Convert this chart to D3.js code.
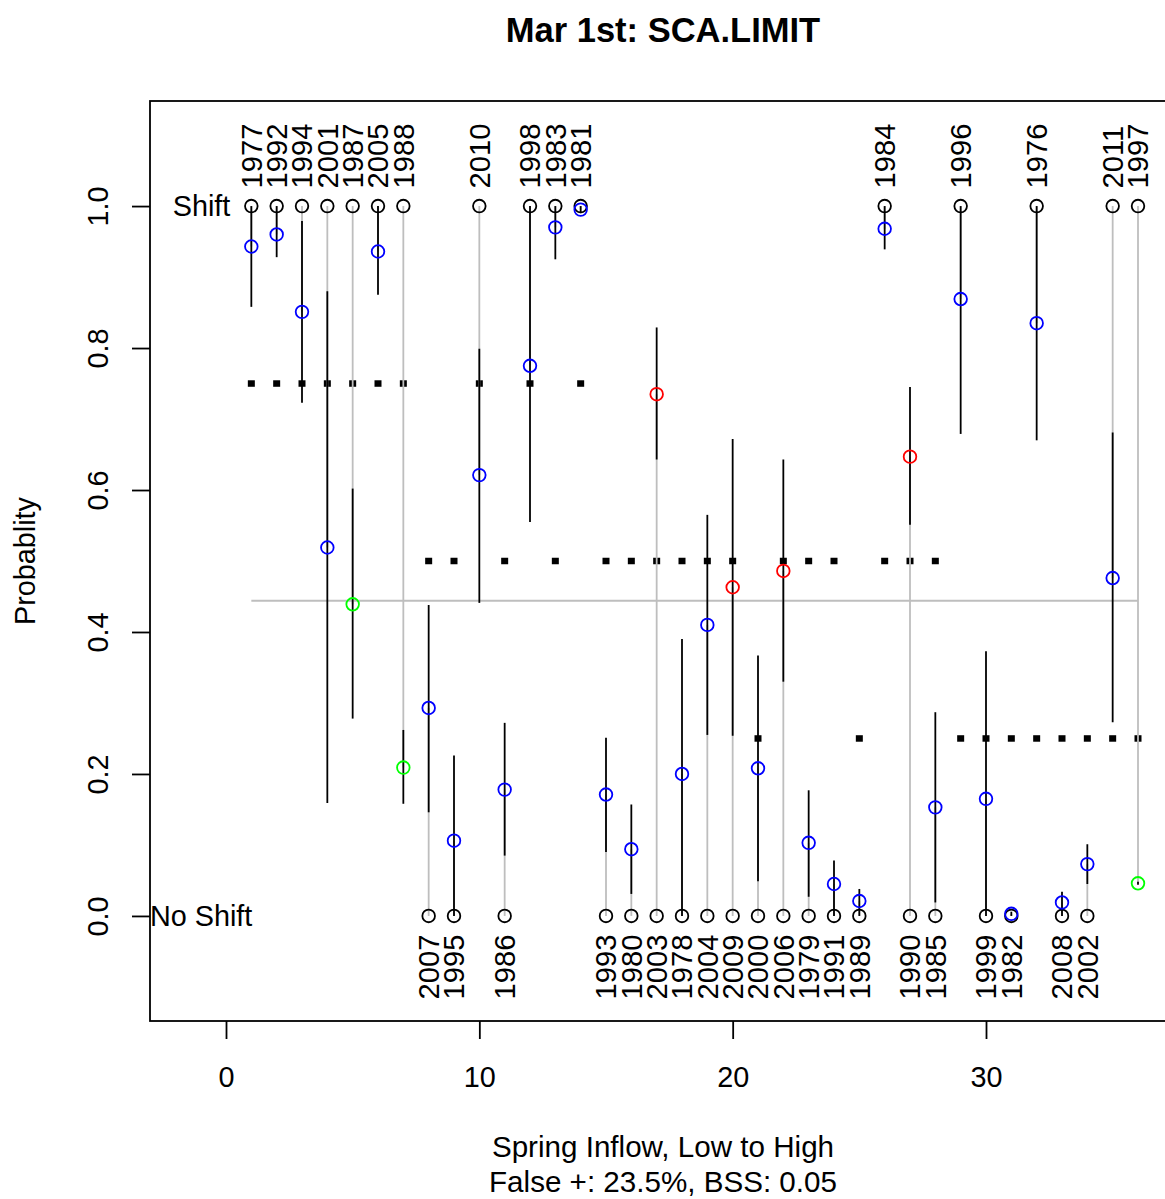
<!DOCTYPE html>
<html>
<head>
<meta charset="utf-8">
<script src="https://cdn.jsdelivr.net/npm/d3@7"></script>
<style>
  body { margin: 0; background: #fff; }
  svg { display: block; font-family: "Liberation Sans", Arial, sans-serif; }
</style>
</head>
<body>
<div id="chart"></div>
<script>
// years sorted by spring inflow, low to high
let years = [1977,1992,1994,2001,1987,2005,1988,2007,1995,2010,1986,1998,1983,1981,1993,1980,2003,1978,
             2004,2009,2000,2006,1979,1991,1989,1984,1990,1985,1996,1999,1982,1976,2008,2002,2011,1997];
let observed = [1,1,1,1,1,1,1,0,0,1,0,1,1,1,0,0,0,0,0,0,0,0,0,0,0,1,0,0,1,0,0,1,0,0,1,1];
let predicted = [0.943,0.960,0.851,0.519,0.439,0.936,0.209,0.293,0.106,0.621,0.178,0.775,0.970,0.995,
                 0.171,0.094,0.735,0.200,0.410,0.463,0.208,0.486,0.103,0.045,0.021,0.968,0.647,0.153,
                 0.869,0.165,0.003,0.835,0.019,0.073,0.476,0.046];
let lower = [0.858,0.928,0.723,0.159,0.278,0.875,0.158,0.146,0.0,0.441,0.085,0.555,0.925,0.990,
             0.090,0.031,0.643,0.0,0.255,0.254,0.049,0.330,0.027,0.0,0.0,0.939,0.551,0.019,
             0.679,0.0,0.0,0.670,0.0,0.045,0.273,0.044];
let upper = [1.0,1.0,0.979,0.880,0.602,1.0,0.262,0.438,0.226,0.799,0.272,1.0,1.0,1.0,
             0.251,0.157,0.829,0.390,0.565,0.672,0.367,0.643,0.177,0.078,0.038,1.0,0.745,0.287,
             1.0,0.373,0.006,1.0,0.034,0.101,0.681,0.048];
let category = [0.75,0.75,0.75,0.75,0.75,0.75,0.75,0.5,0.5,0.75,0.5,0.75,0.5,0.75,
                0.5,0.5,0.5,0.5,0.5,0.5,0.25,0.5,0.5,0.5,0.25,0.5,0.5,0.5,
                0.25,0.25,0.25,0.25,0.25,0.25,0.25,0.25];
let threshold = 0.444;
let xTicks = [0, 10, 20, 30];
let yTicks = [0, 0.2, 0.4, 0.6, 0.8, 1.0];

let data = years.map((y, i) => ({
    x: i + 1, year: y, obs: observed[i], pred: predicted[i],
    lo: lower[i], hi: upper[i], cat: category[i]
}));

let W = 1165, H = 1199;
let plot = {left: 150, right: 1176, top: 101, bottom: 1021};
let fs = 28.8;

let svg = d3.select("#chart").append("svg").attr("width", W).attr("height", H);
svg.append("rect").attr("width", W).attr("height", H).attr("fill", "#fff");

let x = d3.scaleLinear().domain([-3, 37.5]).range([plot.left, plot.right]);
let y = d3.scaleLinear().domain([-0.148, 1.148]).range([plot.bottom, plot.top]);

function ptColor(d) {
    if (d.obs == 0 && d.pred > threshold) return "#FF0000";
    if (d.obs == 1 && d.pred < threshold) return "#00FF00";
    return "#0000FF";
}

// category squares
svg.append("g").selectAll("rect").data(data).enter().append("rect")
    .attr("x", d => x(d.x) - 3.5).attr("y", d => y(d.cat) - 3.25)
    .attr("width", 7).attr("height", 6.5).attr("fill", "#000");

// threshold line
svg.append("line")
    .attr("x1", x(1)).attr("x2", x(data.length))
    .attr("y1", y(threshold)).attr("y2", y(threshold))
    .attr("stroke", "#BEBEBE").attr("stroke-width", 1.8);

// grey: observed -> predicted
svg.append("g").selectAll("line").data(data).enter().append("line")
    .attr("x1", d => x(d.x)).attr("x2", d => x(d.x))
    .attr("y1", d => y(d.obs)).attr("y2", d => y(d.pred))
    .attr("stroke", "#BEBEBE").attr("stroke-width", 1.8);

// black: interval
svg.append("g").selectAll("line").data(data).enter().append("line")
    .attr("x1", d => x(d.x)).attr("x2", d => x(d.x))
    .attr("y1", d => y(d.lo)).attr("y2", d => y(d.hi))
    .attr("stroke", "#000").attr("stroke-width", 1.8);

// observed circles
svg.append("g").selectAll("circle").data(data).enter().append("circle")
    .attr("cx", d => x(d.x)).attr("cy", d => y(d.obs)).attr("r", 6.3)
    .attr("fill", "none").attr("stroke", "#000").attr("stroke-width", 1.8);

// predicted circles
svg.append("g").selectAll("circle").data(data).enter().append("circle")
    .attr("cx", d => x(d.x)).attr("cy", d => y(d.pred)).attr("r", 6.3)
    .attr("fill", "none").attr("stroke", ptColor).attr("stroke-width", 1.8);

// year labels, above for shift years and below for the rest
svg.append("g").selectAll("text").data(data).enter().append("text")
    .attr("transform", d => "translate(" + x(d.x) + "," + (d.obs == 1 ? y(1) - 17.5 : y(0) + 18.5) + ") rotate(-90)")
    .attr("text-anchor", d => d.obs == 1 ? "start" : "end")
    .attr("dy", "0.35em")
    .attr("font-size", 29.2)
    .text(d => d.year);

svg.append("text").attr("x", x(1) - 21).attr("y", y(1)).attr("dy", "0.35em")
    .attr("text-anchor", "end").attr("font-size", fs).text("Shift");
svg.append("text").attr("x", x(1) + 1).attr("y", y(0)).attr("dy", "0.35em")
    .attr("text-anchor", "end").attr("font-size", fs).text("No Shift");

// axes
let xAxis = d3.axisBottom(x).tickValues(xTicks).tickSize(18).tickSizeOuter(0).tickFormat(d3.format("d"));
let gx = svg.append("g").attr("transform", "translate(0," + plot.bottom + ")").call(xAxis);
gx.select(".domain").remove();
gx.selectAll("line").attr("stroke-width", 1.8);
gx.selectAll("text").attr("y", 66).attr("dy", 0).attr("font-size", fs)
    .attr("font-family", "Liberation Sans, Arial, sans-serif").attr("fill", "#000");

let yAxis = d3.axisLeft(y).tickValues(yTicks).tickSize(18).tickSizeOuter(0).tickFormat(d3.format(".1f"));
let gy = svg.append("g").attr("transform", "translate(" + plot.left + ",0)").call(yAxis);
gy.select(".domain").remove();
gy.selectAll("line").attr("stroke-width", 1.8);
gy.selectAll("text").attr("x", 0).attr("dy", 0).attr("text-anchor", "middle")
    .attr("transform", "translate(-42,0) rotate(-90)")
    .attr("font-size", fs).attr("font-family", "Liberation Sans, Arial, sans-serif").attr("fill", "#000");

// box
svg.append("rect")
    .attr("x", plot.left).attr("y", plot.top)
    .attr("width", plot.right - plot.left).attr("height", plot.bottom - plot.top)
    .attr("fill", "none").attr("stroke", "#000").attr("stroke-width", 1.8);

// titles
let cx = (plot.left + plot.right) / 2;
svg.append("text").attr("x", cx).attr("y", 42).attr("text-anchor", "middle")
    .attr("font-size", 34.5).attr("font-weight", "bold").text("Mar 1st: SCA.LIMIT");
svg.append("text").attr("x", cx).attr("y", 1157).attr("text-anchor", "middle")
    .attr("font-size", 29.6).text("Spring Inflow, Low to High");
svg.append("text").attr("x", cx).attr("y", 1192).attr("text-anchor", "middle")
    .attr("font-size", 29.6).text("False +: 23.5%, BSS: 0.05");
svg.append("text").attr("transform", "translate(35," + (plot.top + plot.bottom) / 2 + ") rotate(-90)")
    .attr("text-anchor", "middle").attr("font-size", fs).text("Probablity");
</script>
</body>
</html>
